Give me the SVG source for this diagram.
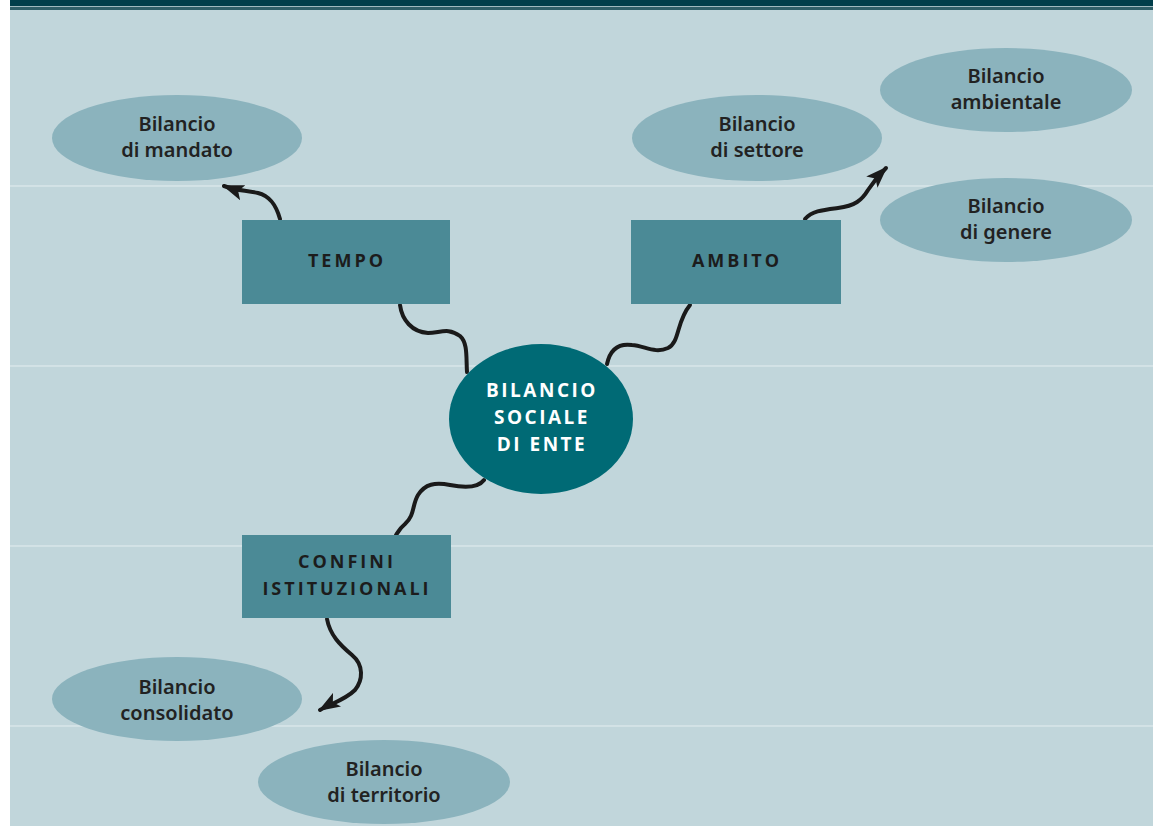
<svg xmlns="http://www.w3.org/2000/svg" width="1153" height="826" viewBox="0 0 1153 826">
<style>
.ell{fill:#8bb3bd}
.box{fill:#4b8a96}
.et{font-family:"Noto Sans","Open Sans",sans-serif;font-size:20px;font-weight:600;fill:#222;text-anchor:middle}
.bt{font-family:"Open Sans","Noto Sans",sans-serif;font-size:18px;font-weight:bold;fill:#1c1c1c;text-anchor:middle;letter-spacing:3px}
.ct{font-family:"Open Sans","Noto Sans",sans-serif;font-size:19px;font-weight:bold;fill:#ffffff;text-anchor:middle;letter-spacing:2.5px}
.wire{fill:none;stroke:#1a1a1a;stroke-width:4;stroke-linecap:round;stroke-linejoin:round}
.hl{stroke:#e4eef0;stroke-width:1}
</style>
<defs>
<marker id="arr" viewBox="0 0 22 16" refX="20" refY="8" markerWidth="22" markerHeight="16" markerUnits="userSpaceOnUse" orient="auto">
<path d="M0,0 L22,8 L0,16 L5,8 Z" fill="#1a1a1a"/>
</marker>
</defs>
<rect x="0" y="0" width="1153" height="826" fill="#ffffff"/>
<rect x="10" y="0" width="1143" height="826" fill="#c1d6db"/>
<rect x="10" y="0" width="1143" height="6" fill="#003e4a"/>
<rect x="10" y="6" width="1143" height="1" fill="#9fb9be"/>
<rect x="10" y="7" width="1143" height="3" fill="#2f5f68"/>
<g id="gridlines">
<line class="hl" x1="10" y1="186" x2="1153" y2="186"/>
<line class="hl" x1="10" y1="366" x2="1153" y2="366"/>
<line class="hl" x1="10" y1="546" x2="1153" y2="546"/>
<line class="hl" x1="10" y1="726" x2="1153" y2="726"/>
</g>
<g id="connectors">
<path class="wire" marker-end="url(#arr)" d="M280,219 C276,205 270,196 258,193 C245,190 238,191 224,186"/>
<path class="wire" d="M400,305 C402,320 412,332 428,333 C440,333 448,327 460,336 C468,343 466,358 467,372"/>
<path class="wire" d="M607,364 C610,350 618,343 632,345 C645,346 655,354 668,348 C680,342 676,322 690,305"/>
<path class="wire" marker-end="url(#arr)" d="M805,219 C812,211 822,210 838,208 C855,206 862,200 868,190 C872,184 877,177 886,168"/>
<path class="wire" d="M484,480 C478,488 465,488 450,485 C435,482 425,484 418,495 C412,505 415,515 405,524 C400,528 398,532 396,535"/>
<path class="wire" marker-end="url(#arr)" d="M327,619 C330,635 340,645 352,655 C364,665 363,680 355,690 C345,700 330,704 320,710"/>
</g>
<g id="n-mandato">
<ellipse class="ell" cx="177" cy="138" rx="125" ry="43"/>
<text class="et" x="177" y="131">Bilancio</text>
<text class="et" x="177" y="157">di mandato</text>
</g>
<g id="n-settore">
<ellipse class="ell" cx="757" cy="138" rx="125" ry="43"/>
<text class="et" x="757" y="131">Bilancio</text>
<text class="et" x="757" y="157">di settore</text>
</g>
<g id="n-ambientale">
<ellipse class="ell" cx="1006" cy="90" rx="126" ry="42"/>
<text class="et" x="1006" y="83">Bilancio</text>
<text class="et" x="1006" y="109">ambientale</text>
</g>
<g id="n-genere">
<ellipse class="ell" cx="1006" cy="220" rx="126" ry="42"/>
<text class="et" x="1006" y="213">Bilancio</text>
<text class="et" x="1006" y="239">di genere</text>
</g>
<g id="n-consolidato">
<ellipse class="ell" cx="177" cy="699" rx="125" ry="42"/>
<text class="et" x="177" y="694">Bilancio</text>
<text class="et" x="177" y="720">consolidato</text>
</g>
<g id="n-territorio">
<ellipse class="ell" cx="384" cy="782" rx="126" ry="42"/>
<text class="et" x="384" y="776">Bilancio</text>
<text class="et" x="384" y="802">di territorio</text>
</g>
<g id="n-tempo">
<rect class="box" x="242" y="220" width="208" height="84"/>
<text class="bt" x="347" y="267">TEMPO</text>
</g>
<g id="n-ambito">
<rect class="box" x="631" y="220" width="210" height="84"/>
<text class="bt" x="737" y="267">AMBITO</text>
</g>
<g id="n-confini">
<rect class="box" x="242" y="535" width="209" height="83"/>
<text class="bt" x="347" y="568">CONFINI</text>
<text class="bt" x="347" y="595">ISTITUZIONALI</text>
</g>
<g id="n-bilancio">
<ellipse cx="541" cy="419" rx="92" ry="75" fill="#006a75"/>
<text class="ct" x="542" y="397">BILANCIO</text>
<text class="ct" x="542" y="424">SOCIALE</text>
<text class="ct" x="542" y="451">DI ENTE</text>
</g>
</svg>
